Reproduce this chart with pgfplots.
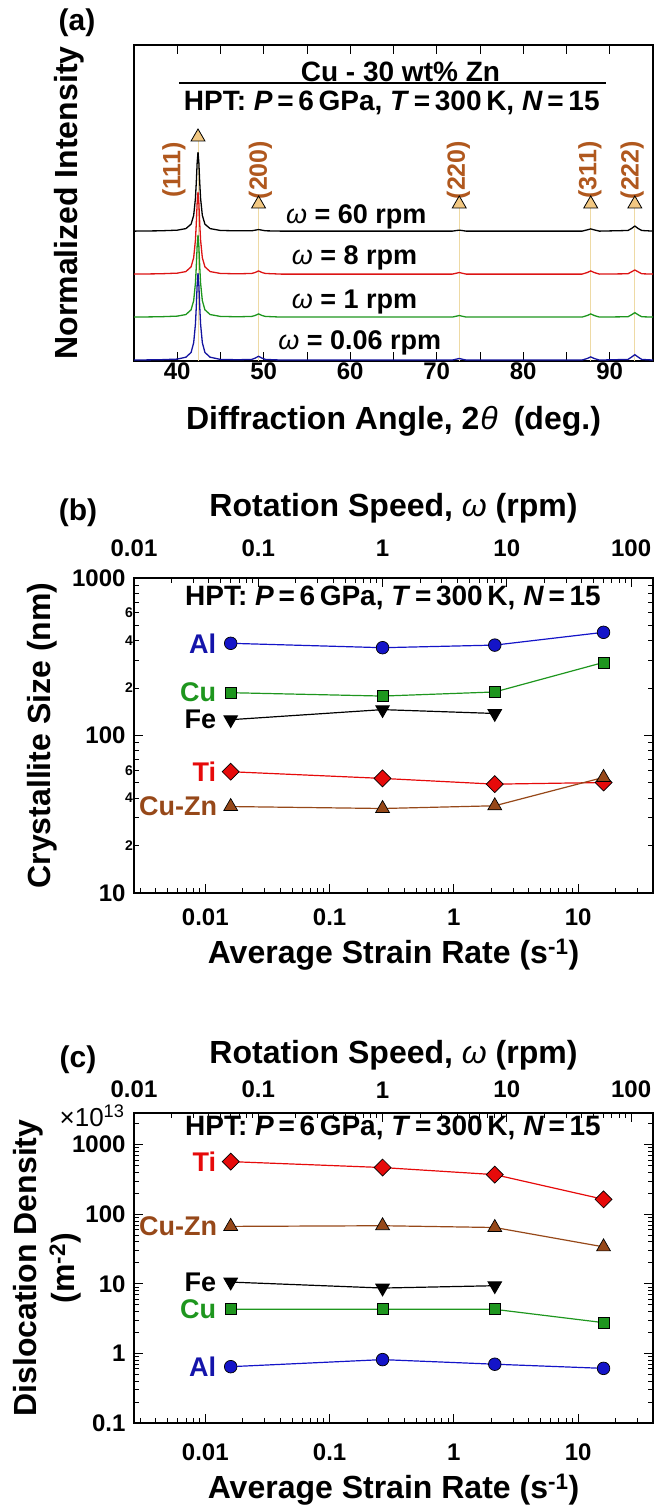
\documentclass[border=0pt]{standalone}
\usepackage{fontspec}
\setmainfont{Liberation Sans}
\usepackage{pgfplots}
\pgfplotsset{compat=1.18}
\definecolor{cBlue}{RGB}{20,20,200}
\definecolor{cLblue}{RGB}{20,20,170}
\definecolor{cGreen}{RGB}{30,150,30}
\definecolor{cRed}{RGB}{230,10,10}
\definecolor{cBrown}{RGB}{150,72,25}
\definecolor{cHKL}{RGB}{176,88,30}
\definecolor{cTan}{RGB}{242,200,130}
\definecolor{cTanLine}{RGB}{238,218,165}
\definecolor{tRed}{RGB}{220,20,20}
\definecolor{tGreen}{RGB}{30,150,30}
\definecolor{tBlue}{RGB}{20,20,160}
\newcommand{\fs}[2]{\fontsize{#1}{#2}\selectfont}
\newcommand{\om}{{\mdseries\itshape ω}}
\pgfplotsset{
  base/.style={scale only axis, width=519pt, anchor=south west, tick align=inside,
    axis line style={line width=1.3pt}, tick style={black, line width=0.9pt},
    major tick length=9pt, minor tick length=5pt,
    tick label style={font=\fs{24}{28}\bfseries},
    label style={font=\fs{32}{38}\bfseries}},
  sAl/.style={color=cBlue, line width=1.2pt, mark=*, mark size=6.3pt, mark options={fill=cBlue, draw=black, line width=0.7pt}},
  sCu/.style={color=cGreen, line width=1.2pt, mark=square*, mark size=5.5pt, mark options={fill=cGreen, draw=black, line width=0.7pt}},
  sFe/.style={color=black, line width=1.2pt, mark=triangle*, mark size=7.5pt, mark options={rotate=180, fill=black, draw=black}},
  sTi/.style={color=cRed, line width=1.2pt, mark=square*, mark size=6pt, mark options={rotate=45, fill=cRed, draw=black, line width=0.7pt}},
  sCZ/.style={color=cBrown, line width=1.2pt, mark=triangle*, mark size=8pt, mark options={fill=cBrown, draw=black, line width=0.7pt}},
}
\tikzset{lbl/.style={font=\fs{27}{32}\bfseries}, hpt/.style={font=\fs{28}{33}\bfseries}}
\begin{document}
\begin{tikzpicture}[x=1pt,y=1pt]
\useasboundingbox (0,0) rectangle (656,-1506);
% panel letters
\node[font=\fs{30}{36}\bfseries] at (77,-23) {(a)};
\node[font=\fs{30}{36}\bfseries] at (78,-513) {(b)};
\node[font=\fs{30}{36}\bfseries] at (78,-1060) {(c)};
\node[font=\fs{26}{30}, anchor=east] at (128,-1116) {×10\textsuperscript{13}};

% ---------------- (a) ----------------
\begin{axis}[base, at={(134pt,-361pt)}, height=316pt,
  xmin=35, xmax=95, ymin=0, ymax=10,
  xtick={40,50,60,70,80,90}, xticklabels={40,50,60,70,80,90},
  minor xtick={45,55,65,75,85}, minor tick length=9pt, ytick=\empty,
  xticklabel style={yshift=2pt},
  xlabel={Diffraction Angle, 2\kern1pt{\mdseries\itshape θ}\enspace(deg.)},
  xlabel style={at={(axis description cs:0.5,-0.19)}, anchor=center},
  ylabel={Normalized Intensity},
  ylabel style={at={(axis description cs:-0.125,0.5)}, anchor=center},
]
\addplot[cTanLine, line width=1pt] coordinates {(42.4,0)(42.4,7.0)};
\addplot[cTanLine, line width=1pt] coordinates {(49.4,0)(49.4,4.9)};
\addplot[cTanLine, line width=1pt] coordinates {(72.6,0)(72.6,4.9)};
\addplot[cTanLine, line width=1pt] coordinates {(87.8,0)(87.8,4.9)};
\addplot[cTanLine, line width=1pt] coordinates {(92.9,0)(92.9,4.9)};
% blue 0.06 rpm
\addplot[tBlue, line width=1.3pt] coordinates {(35,0.03)(38,0.04)(40,0.06)(41,0.12)(41.6,0.27)(41.9,0.58)(42.1,1.16)(42.2,1.71)(42.3,2.40)(42.4,2.78)(42.5,2.40)(42.6,1.71)(42.7,1.16)(42.9,0.58)(43.2,0.27)(43.8,0.12)(45,0.05)(47,0.04)(48.6,0.05)(49.0,0.09)(49.4,0.15)(49.8,0.09)(50.2,0.05)(52,0.03)(60,0.03)(71.8,0.03)(72.3,0.06)(72.6,0.08)(72.9,0.06)(73.4,0.03)(80,0.03)(86.8,0.03)(87.4,0.08)(87.8,0.13)(88.2,0.08)(88.8,0.03)(92.1,0.05)(92.5,0.12)(92.9,0.20)(93.3,0.12)(93.7,0.05)(95,0.03)};
% green 1 rpm
\addplot[tGreen, line width=1.3pt] coordinates {(35,1.39)(38,1.40)(40,1.42)(41,1.47)(41.6,1.62)(41.9,1.91)(42.1,2.46)(42.2,2.98)(42.3,3.63)(42.4,3.99)(42.5,3.63)(42.6,2.98)(42.7,2.46)(42.9,1.91)(43.2,1.62)(43.8,1.47)(45,1.41)(47,1.40)(48.6,1.41)(49.0,1.44)(49.4,1.49)(49.8,1.44)(50.2,1.41)(52,1.39)(60,1.39)(71.8,1.39)(72.3,1.42)(72.6,1.44)(72.9,1.42)(73.4,1.39)(80,1.39)(86.8,1.39)(87.4,1.44)(87.8,1.49)(88.2,1.44)(88.8,1.39)(92.1,1.40)(92.5,1.46)(92.9,1.53)(93.3,1.46)(93.7,1.40)(95,1.39)};
% red 8 rpm
\addplot[tRed, line width=1.3pt] coordinates {(35,2.75)(38,2.76)(40,2.78)(41,2.83)(41.6,2.98)(41.9,3.27)(42.1,3.82)(42.2,4.34)(42.3,4.99)(42.4,5.35)(42.5,4.99)(42.6,4.34)(42.7,3.82)(42.9,3.27)(43.2,2.98)(43.8,2.83)(45,2.77)(47,2.76)(48.6,2.77)(49.0,2.80)(49.4,2.85)(49.8,2.80)(50.2,2.77)(52,2.75)(60,2.75)(71.8,2.75)(72.3,2.78)(72.6,2.80)(72.9,2.78)(73.4,2.75)(80,2.75)(86.8,2.75)(87.4,2.80)(87.8,2.85)(88.2,2.80)(88.8,2.75)(92.1,2.76)(92.5,2.82)(92.9,2.88)(93.3,2.82)(93.7,2.76)(95,2.75)};
% black 60 rpm
\addplot[black, line width=1.3pt] coordinates {(35,4.11)(38,4.12)(40,4.14)(41,4.19)(41.6,4.33)(41.9,4.61)(42.1,5.14)(42.2,5.64)(42.3,6.27)(42.4,6.61)(42.5,6.27)(42.6,5.64)(42.7,5.14)(42.9,4.61)(43.2,4.33)(43.8,4.19)(45,4.13)(47,4.12)(48.6,4.12)(49.0,4.14)(49.4,4.16)(49.8,4.14)(50.2,4.12)(52,4.11)(60,4.11)(71.8,4.11)(72.3,4.13)(72.6,4.14)(72.9,4.13)(73.4,4.11)(80,4.11)(86.8,4.11)(87.4,4.15)(87.8,4.18)(88.2,4.15)(88.8,4.11)(92.1,4.13)(92.5,4.19)(92.9,4.27)(93.3,4.19)(93.7,4.13)(95,4.11)};
% peak markers
\addplot[only marks, mark=triangle*, mark size=8pt, mark options={fill=cTan, draw=black, line width=0.8pt}] coordinates {(42.4,7.09)(49.4,4.97)(72.6,4.97)(87.8,4.97)(92.9,4.97)};
% title rule
\addplot[black, line width=2pt] coordinates {(40.2,8.80)(89.6,8.80)};
\node[hpt] at (axis cs:65.8,9.15) {Cu - 30 wt\% Zn};
\node[hpt] at (axis cs:64.8,8.16) {HPT: \textit{P}\,=\,6\,GPa, \textit{T}\,=\,300\,K, \textit{N}\,=\,15};
\node[font=\fs{25}{30}\bfseries, text=cHKL, rotate=90] at (axis cs:39.6,6.04) {(111)};
\node[font=\fs{25}{30}\bfseries, text=cHKL, rotate=90] at (axis cs:49.6,6.04) {(200)};
\node[font=\fs{25}{30}\bfseries, text=cHKL, rotate=90] at (axis cs:72.5,6.04) {(220)};
\node[font=\fs{25}{30}\bfseries, text=cHKL, rotate=90] at (axis cs:87.7,6.04) {(311)};
\node[font=\fs{25}{30}\bfseries, text=cHKL, rotate=90] at (axis cs:92.6,6.04) {(222)};
\node[lbl] at (axis cs:60.7,4.56) {\om\ = 60 rpm};
\node[lbl] at (axis cs:60.5,3.26) {\om\ = 8 rpm};
\node[lbl] at (axis cs:60.5,1.87) {\om\ = 1 rpm};
\node[lbl] at (axis cs:61.1,0.57) {\om\ = 0.06 rpm};
\end{axis}

% ---------------- (b) ----------------
\begin{axis}[base, at={(134pt,-893pt)}, height=315pt,
  xmode=log, xmin=0.01, xmax=150, ymin=0, ymax=1,
  axis x line*=top, hide y axis,
  xtick={0.01,0.1,1,10,100}, xticklabels={0.01,0.1,1,10,100},
  minor xtick={0.02,0.03,0.04,0.05,0.06,0.07,0.08,0.09,0.2,0.3,0.4,0.5,0.6,0.7,0.8,0.9,2,3,4,5,6,7,8,9,20,30,40,50,60,70,80,90},
  xticklabel style={yshift=18pt},
  xlabel={Rotation Speed, \om\ (rpm)},
  xlabel style={at={(axis description cs:0.5,1.222)}, anchor=center},
]
\end{axis}
\begin{axis}[base, at={(134pt,-893pt)}, height=315pt, clip=false,
  xmode=log, ymode=log, xmin=0.0026667, xmax=40, ymin=10, ymax=1000,
  xtick pos=left,
  xtick={0.01,0.1,1,10}, xticklabels={0.01,0.1,1,10},
  minor xtick={0.003,0.004,0.005,0.006,0.007,0.008,0.009,0.02,0.03,0.04,0.05,0.06,0.07,0.08,0.09,0.2,0.3,0.4,0.5,0.6,0.7,0.8,0.9,2,3,4,5,6,7,8,9,20,30},
  ytick={10,100,1000}, yticklabels={10,100,1000},
  extra y ticks={20,40,60,200,400,600}, extra y tick labels={2,4,6,2,4,6},
  extra y tick style={major tick length=5pt, yticklabel style={font=\fs{14}{16}\bfseries, xshift=7.5pt}},
  minor ytick={30,50,70,80,90,300,500,700,800,900},
  xticklabel style={yshift=-12pt}, yticklabel style={xshift=-5pt},
  xlabel={Average Strain Rate (s\textsuperscript{-1})},
  xlabel style={at={(axis description cs:0.5,-0.197)}, anchor=center},
  ylabel={Crystallite Size (nm)},
  ylabel style={at={(axis description cs:-0.177,0.5)}, anchor=center},
]
\addplot[sAl] coordinates {(0.016,385)(0.2667,361)(2.133,375)(16,452)};
\addplot[sCu] coordinates {(0.016,187)(0.2667,178)(2.133,189)(16,291)};
\addplot[sFe] coordinates {(0.016,126)(0.2667,146)(2.133,138)};
\addplot[sTi] coordinates {(0.016,58.9)(0.2667,53.4)(2.133,49.1)(16,50.3)};
\addplot[sCZ] coordinates {(0.016,35.4)(0.2667,34.4)(2.133,35.8)(16,54.2)};
\node[hpt] at (rel axis cs:0.499,0.937) {HPT: \textit{P}\,=\,6\,GPa, \textit{T}\,=\,300\,K, \textit{N}\,=\,15};
\node[lbl, text=cLblue, anchor=east, xshift=-11pt] at (axis cs:0.016,385) {Al};
\node[lbl, text=cGreen, anchor=east, xshift=-11pt] at (axis cs:0.016,187) {Cu};
\node[lbl, text=black, anchor=east, xshift=-11pt] at (axis cs:0.016,126) {Fe};
\node[lbl, text=cRed, anchor=east, xshift=-11pt] at (axis cs:0.016,58.9) {Ti};
\node[lbl, text=cBrown, anchor=east, xshift=-10pt] at (axis cs:0.016,35.4) {Cu-Zn};
\end{axis}

% ---------------- (c) ----------------
\begin{axis}[base, at={(134pt,-1423pt)}, height=310pt,
  xmode=log, xmin=0.01, xmax=150, ymin=0, ymax=1,
  axis x line*=top, hide y axis,
  xtick={0.01,0.1,1,10,100}, xticklabels={0.01,0.1,1,10,100},
  minor xtick={0.02,0.03,0.04,0.05,0.06,0.07,0.08,0.09,0.2,0.3,0.4,0.5,0.6,0.7,0.8,0.9,2,3,4,5,6,7,8,9,20,30,40,50,60,70,80,90},
  xticklabel style={yshift=11.4pt},
  xlabel={Rotation Speed, \om\ (rpm)},
  xlabel style={at={(axis description cs:0.5,1.187)}, anchor=center},
]
\end{axis}
\begin{axis}[base, at={(134pt,-1423pt)}, height=310pt, clip=false,
  xmode=log, ymode=log, xmin=0.0026667, xmax=40, ymin=0.1, ymax=2850,
  xtick pos=left,
  xtick={0.01,0.1,1,10}, xticklabels={0.01,0.1,1,10},
  minor xtick={0.003,0.004,0.005,0.006,0.007,0.008,0.009,0.02,0.03,0.04,0.05,0.06,0.07,0.08,0.09,0.2,0.3,0.4,0.5,0.6,0.7,0.8,0.9,2,3,4,5,6,7,8,9,20,30},
  ytick={0.1,1,10,100,1000}, yticklabels={0.1,1,10,100,1000},
  minor ytick={0.2,0.3,0.4,0.5,0.6,0.7,0.8,0.9,2,3,4,5,6,7,8,9,20,30,40,50,60,70,80,90,200,300,400,500,600,700,800,900,2000},
  xticklabel style={yshift=-17pt}, yticklabel style={xshift=-5pt},
  xlabel={Average Strain Rate (s\textsuperscript{-1})},
  xlabel style={at={(axis description cs:0.5,-0.216)}, anchor=center},
  ylabel={Dislocation Density\\(m\textsuperscript{-2})},
  ylabel style={at={(axis description cs:-0.168,0.5)}, anchor=center, align=center},
]
\addplot[sTi] coordinates {(0.016,571)(0.2667,469)(2.133,371)(16,164)};
\addplot[sCZ] coordinates {(0.016,66.9)(0.2667,68.4)(2.133,64.5)(16,34.0)};
\addplot[sFe] coordinates {(0.016,10.6)(0.2667,8.7)(2.133,9.4)};
\addplot[sCu] coordinates {(0.016,4.3)(0.2667,4.3)(2.133,4.3)(16,2.77)};
\addplot[sAl] coordinates {(0.016,0.645)(0.2667,0.815)(2.133,0.70)(16,0.61)};
\node[hpt] at (rel axis cs:0.499,0.952) {HPT: \textit{P}\,=\,6\,GPa, \textit{T}\,=\,300\,K, \textit{N}\,=\,15};
\node[lbl, text=cRed, anchor=east, xshift=-11pt] at (axis cs:0.016,571) {Ti};
\node[lbl, text=cBrown, anchor=east, xshift=-10pt] at (axis cs:0.016,66.9) {Cu-Zn};
\node[lbl, text=black, anchor=east, xshift=-11pt] at (axis cs:0.016,10.6) {Fe};
\node[lbl, text=cGreen, anchor=east, xshift=-11pt] at (axis cs:0.016,4.3) {Cu};
\node[lbl, text=cLblue, anchor=east, xshift=-11pt] at (axis cs:0.016,0.645) {Al};
\end{axis}
\end{tikzpicture}
\end{document}
